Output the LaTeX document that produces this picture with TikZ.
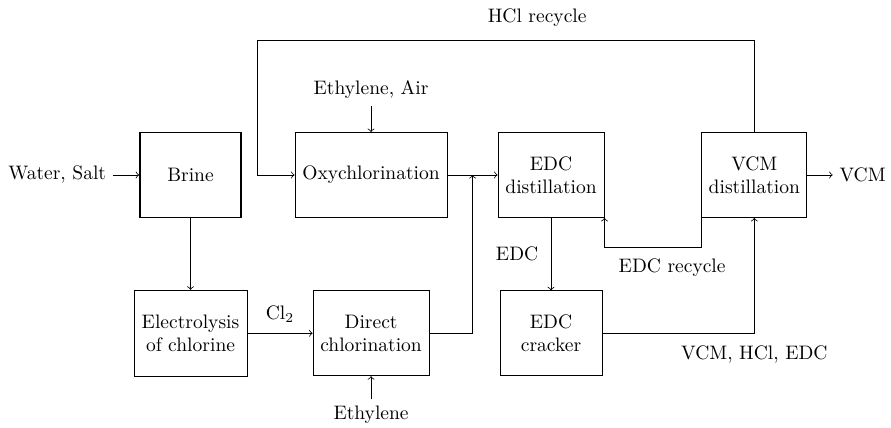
\documentclass[tikz,border=0pt]{standalone}
\usepackage{tikz}
\usetikzlibrary{positioning,calc}

\begin{document}
\begin{tikzpicture}[scale=1,
		unit/.style={draw, minimum height=1.53cm, align=center},
		flow/.style={->}]
		
		\useasboundingbox (0,0) rectangle (16.04,7.70);
		
		% Draw process units
		\node[unit, thick, minimum width=1.82cm] (brine) at (3.43,4.55) {Brine};
		\node[unit, minimum width=2.74cm] (oxy) at (6.68,4.55) {Oxychlorination};
		\node[unit, minimum width=1.91cm] (edcdist) at (9.92,4.55) {EDC\\distillation};
		\node[unit, minimum width=1.89cm] (vcmdist) at (13.58,4.55) {VCM\\distillation};
		\node[unit, minimum width=2.03cm, minimum height=1.55cm] (electro) at (3.43,1.70) {Electrolysis\\of chlorine};
		\node[unit, minimum width=2.09cm] (direct) at (6.68,1.70) {Direct\\chlorination};
		\node[unit, minimum width=1.84cm] (cracker) at (9.92,1.70) {EDC\\cracker};
		
		% Feeds, products and labels
		\node (water) at (1.03,4.55) {Water, Salt};
		\node (ethair) at (6.68,6.08) {Ethylene, Air};
		\node (eth) at (6.68,0.23) {Ethylene};
		\node (vcm) at (15.53,4.55) {VCM};
		\node (hcl) at (9.67,7.38) {HCl recycle};
		\node (edcrec) at (12.10,2.88) {EDC recycle};
		
		% Junctions
		\coordinate (mix) at ($(oxy.east)!0.5!(edcdist.west)$);
		\coordinate (hcltop) at (4.64,6.97);
		
		% Draw streams
		\draw[flow] (water) -- (brine);
		\draw[flow] (brine) -- (electro);
		\draw[flow] (electro) -- node[above=2pt] {Cl$_2$} (direct);
		\draw[flow] (eth) -- (direct);
		\draw[flow] (ethair) -- (oxy);
		\draw[flow] (oxy) -- (edcdist);
		\draw[flow] (direct.east) -| (mix);
		\draw[flow] (edcdist) -- node[left=3pt] {EDC} (cracker);
		\draw[flow] (cracker.east) -| node[pos=0.5, below=3pt] {VCM, HCl, EDC} (vcmdist.south);
		\draw[flow] (vcmdist.south west) -- ++(0,-0.54) -| (edcdist.south east);
		\draw[flow] (vcmdist.north) |- (hcltop) |- (oxy.west);
		\draw[flow] (vcmdist) -- (vcm);
		
	\end{tikzpicture}
\end{document}
